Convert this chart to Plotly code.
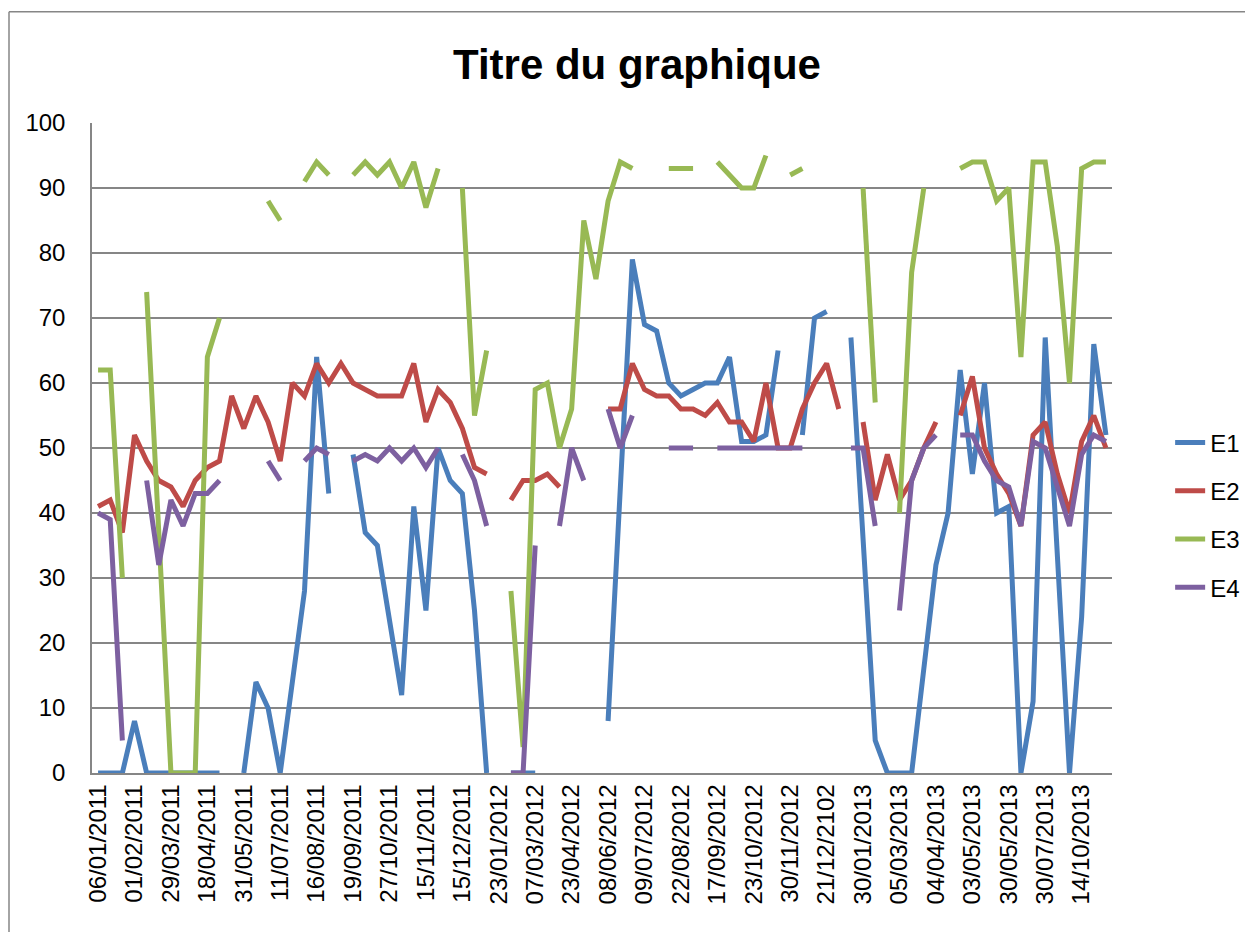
import plotly.graph_objects as go

N = None
tick_labels = ["06/01/2011", "01/02/2011", "29/03/2011", "18/04/2011", "31/05/2011",
               "11/07/2011", "16/08/2011", "19/09/2011", "27/10/2011", "15/11/2011",
               "15/12/2011", "23/01/2012", "07/03/2012", "23/04/2012", "08/06/2012",
               "09/07/2012", "22/08/2012", "17/09/2012", "23/10/2012", "30/11/2012",
               "21/12/2102", "30/01/2013", "05/03/2013", "04/04/2013", "03/05/2013",
               "30/05/2013", "30/07/2013", "14/10/2013"]

E1 = [0, 0, 0, 8, 0, 0, 0, 0, 0, 0, 0, N, 0, 14, 10, 0, 14, 28, 64, 43,
      N, 49, 37, 35, 24, 12, 41, 25, 50, 45, 43, 25, 0, N, 0, 0, 0, N, N, N,
      N, N, 8, 45, 79, 69, 68, 60, 58, 59, 60, 60, 64, 51, 51, 52, 65, N, 52, 70,
      71, N, 67, 37, 5, 0, 0, 0, 16, 32, 40, 62, 46, 60, 40, 41, 0, 11, 67, 34,
      0, 24, 66, 52]
E2 = [41, 42, 37, 52, 48, 45, 44, 41, 45, 47, 48, 58, 53, 58, 54, 48, 60, 58, 63, 60,
      63, 60, 59, 58, 58, 58, 63, 54, 59, 57, 53, 47, 46, N, 42, 45, 45, 46, 44, N,
      N, N, 56, 56, 63, 59, 58, 58, 56, 56, 55, 57, 54, 54, 51, 60, 50, 50, 56, 60,
      63, 56, N, 54, 42, 49, 42, 45, 50, 54, N, 55, 61, 50, 46, 43, 38, 52, 54, 46,
      40, 51, 55, 50]
E3 = [62, 62, 30, N, 74, 37, 0, 0, 0, 64, 70, N, N, N, 88, 85, N, 91, 94, 92,
      N, 92, 94, 92, 94, 90, 94, 87, 93, N, 90, 55, 65, N, 28, 4, 59, 60, 50, 56,
      85, 76, 88, 94, 93, N, N, 93, 93, 93, N, 94, 92, 90, 90, 95, N, 92, 93, N,
      N, N, N, 90, 57, N, 40, 77, 90, N, N, 93, 94, 94, 88, 90, 64, 94, 94, 81,
      60, 93, 94, 94]
E4 = [40, 39, 5, N, 45, 32, 42, 38, 43, 43, 45, N, N, N, 48, 45, N, 48, 50, 49,
      N, 48, 49, 48, 50, 48, 50, 47, 50, N, 49, 45, 38, N, 0, 0, 35, N, 38, 50,
      45, N, 56, 50, 55, N, N, 50, 50, 50, N, 50, 50, 50, 50, 50, 50, 50, 50, N,
      N, N, 50, 50, 38, N, 25, 45, 50, 52, N, 52, 52, 48, 45, 44, 38, 51, 50, 44,
      38, 49, 52, 51]

series = {"E1": E1, "E2": E2, "E3": E3, "E4": E4}
colors = {"E1": "#4A7EBB", "E2": "#BE4B48", "E3": "#98B954", "E4": "#7D60A0"}

x = list(range(len(E1)))
FONT = "Liberation Sans, Arial, sans-serif"

fig = go.Figure()
for name, vals in series.items():
    fig.add_trace(go.Scatter(
        x=x, y=vals, name=name, mode="lines", connectgaps=False,
        line=dict(color=colors[name], width=5),
        legendgroup=name,
    ))

fig.update_layout(
    width=1253, height=932,
    margin=dict(l=84, r=149, t=115, b=167),
    paper_bgcolor="white", plot_bgcolor="white",
    title=dict(text="<b>Titre du graphique</b>", font=dict(family=FONT, size=42, color="black"),
               xref="container", yref="container", x=0.502, y=1 - 56 / 932,
               xanchor="center", yanchor="middle"),
    showlegend=True,
    legend=dict(x=1.057, y=0.397, xanchor="left", yanchor="middle",
                font=dict(family=FONT, size=24, color="black"),
                tracegroupgap=14, traceorder="grouped", bgcolor="rgba(0,0,0,0)"),
    font=dict(family=FONT, size=24, color="black"),
)
fig.update_xaxes(
    range=[-0.5, len(E1) - 0.5],
    tickmode="array", tickvals=list(range(0, len(E1), 3))[:len(tick_labels)], ticktext=tick_labels,
    tickangle=-90, showgrid=False, showline=True, linecolor="#868686", linewidth=1.5,
    ticks="", tickfont=dict(family=FONT, size=24, color="black"), zeroline=False,
)
fig.update_yaxes(
    range=[0, 100], dtick=10, showgrid=True, gridcolor="#868686", gridwidth=1.5,
    showline=True, linecolor="#868686", linewidth=1.5, ticks="", zeroline=False,
    tickfont=dict(family=FONT, size=24, color="black"), ticklabelstandoff=20,
)
# outer chart border (left and top visible)
bx = (9 - 92) / 1020
by = (773.3 - 12) / 650
fig.add_shape(type="line", xref="paper", yref="paper",
              x0=bx, x1=bx, y0=(773.3 - 940) / 650, y1=by,
              line=dict(color="#868686", width=1.5))
fig.add_shape(type="line", xref="paper", yref="paper",
              x0=bx, x1=(1260 - 92) / 1020, y0=by, y1=by,
              line=dict(color="#868686", width=1.5))

fig.write_html("out.html")
